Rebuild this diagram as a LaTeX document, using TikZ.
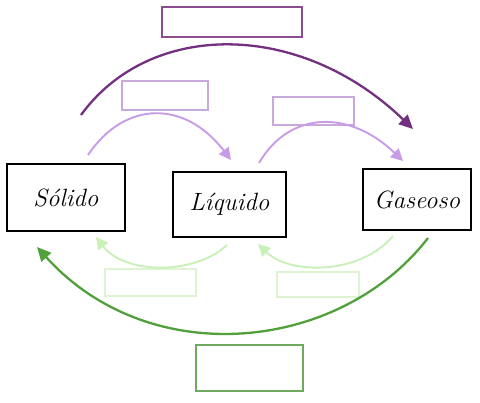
\documentclass[tikz,border=0pt]{standalone}
\usetikzlibrary{arrows.meta}
\definecolor{dpurple}{HTML}{73307F}
\definecolor{lpurple}{HTML}{C79BE8}
\definecolor{lpbox}{HTML}{C8A9DC}
\definecolor{dpbox}{HTML}{8A4E8E}
\definecolor{dgreen}{HTML}{52A03C}
\definecolor{lgreen}{HTML}{C9F0B9}
\definecolor{lgbox}{HTML}{DDF3D2}
\definecolor{dgbox}{HTML}{6EAA5E}
\tikzset{
  state/.style={draw=black, line width=2pt, minimum width=#1, inner sep=0pt, font=\fontsize{25}{28}\selectfont\itshape},
  lbl/.style={draw=#1, line width=1.1pt, inner sep=0pt},
  arr/.style={-{Triangle[length=14pt,width=13pt]}, line width=2.3pt},
  sarr/.style={-{Triangle[length=12pt,width=12pt]}, line width=1.9pt},
}
\begin{document}
\begin{tikzpicture}[x=1pt,y=-1pt]
\useasboundingbox (0,0) rectangle (480,403);
% state boxes
\node[state=118pt, minimum height=67pt] (sol) at (66,197.5) {Sólido};
\node[state=113pt, minimum height=65pt] (liq) at (229.5,204.5) {Líquido};
\node[state=108pt, minimum height=61pt] (gas) at (417,199.5) {Gaseoso};
% label boxes
\node[lbl=dpbox, minimum width=140pt, minimum height=30pt] (ltop) at (232,22) {};
\node[lbl=lpbox, minimum width=86pt, minimum height=29pt] (lul) at (165,95.5) {};
\node[lbl=lpbox, minimum width=81pt, minimum height=28pt] (lur) at (313.5,111) {};
\node[lbl=lgbox, minimum width=91pt, minimum height=27pt] (lbl1) at (150.5,282.5) {};
\node[lbl=lgbox, minimum width=82pt, minimum height=25pt] (lbr) at (318,284.5) {};
\node[lbl=dgbox, minimum width=107pt, minimum height=46pt] (lbot) at (249.5,368) {};
% connector endpoints
\coordinate (p1s) at (81,115);  \coordinate (p1e) at (413,129);
\coordinate (p2s) at (88,155);  \coordinate (p2e) at (231,160);
\coordinate (p3s) at (259,163); \coordinate (p3e) at (403,161);
\coordinate (g1s) at (428,238); \coordinate (g1e) at (37,247);
\coordinate (g2s) at (227,245); \coordinate (g2e) at (96,237);
\coordinate (g3s) at (393,236); \coordinate (g3e) at (258,244);
% purple arrows
\draw[arr, draw=dpurple] (p1s) .. controls (150,20) and (300,20) .. (p1e);
\draw[sarr, draw=lpurple] (p2s) .. controls (125,100) and (185,100) .. (p2e);
\draw[sarr, draw=lpurple] (p3s) .. controls (290,110) and (350,110) .. (p3e);
% green arrows
\draw[arr, draw=dgreen] (g1s) .. controls (340,352) and (150,372) .. (g1e);
\draw[sarr, draw=lgreen] (g2s) .. controls (195,275) and (125,275) .. (g2e);
\draw[sarr, draw=lgreen] (g3s) .. controls (360,275) and (290,275) .. (g3e);
\end{tikzpicture}
\end{document}
